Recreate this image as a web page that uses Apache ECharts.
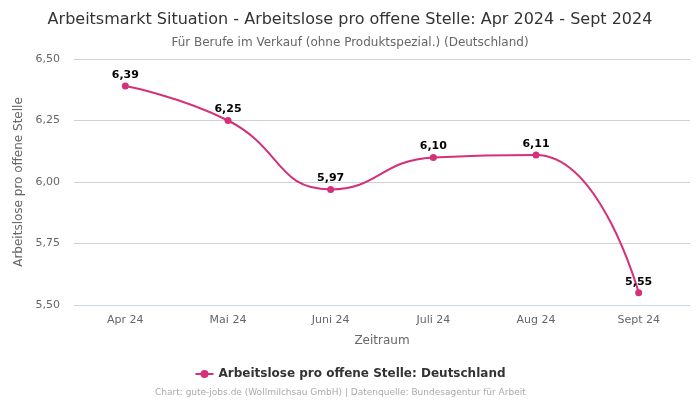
<!DOCTYPE html>
<html><head><meta charset="utf-8">
<script src="https://cdn.jsdelivr.net/npm/echarts@6/dist/echarts.min.js"></script>
<style>html,body{margin:0;padding:0;background:#fff}#c{width:700px;height:400px}</style>
</head><body><div id="c"></div>
<script>
const categories = ['Apr 24','Mai 24','Juni 24','Juli 24','Aug 24','Sept 24'];
const values = [6.39, 6.25, 5.97, 6.10, 6.11, 5.55];
const seriesName = 'Arbeitslose pro offene Stelle: Deutschland';
const fmt = v => v.toFixed(2).replace('.', ',');
const chart = echarts.init(document.getElementById('c'), null, {renderer:'canvas'});
const F = 'DejaVu Sans';
chart.setOption({
  animation:false,
  textStyle:{fontFamily:F},
  title:[
    {text:'Arbeitsmarkt Situation - Arbeitslose pro offene Stelle: Apr 2024 - Sept 2024', left:'center', top:7, textStyle:{fontFamily:F,fontSize:16,fontWeight:'normal',color:'#333'}},
    {text:'Für Berufe im Verkauf (ohne Produktspezial.) (Deutschland)', left:'center', top:32, textStyle:{fontFamily:F,fontSize:12,fontWeight:'normal',color:'#666'}},
    {text:'Chart: gute-jobs.de (Wollmilchsau GmbH) | Datenquelle: Bundesagentur für Arbeit', left:150, top:383, textStyle:{fontFamily:F,fontSize:9,fontWeight:'normal',color:'#aaa'}}
  ],
  legend:{bottom:15, left:'center', itemWidth:18, itemHeight:10, textStyle:{fontFamily:F,fontSize:12,fontWeight:'bold',color:'#333'}, data:[seriesName]},
  grid:{left:74, right:10, top:59, bottom:95},
  xAxis:{type:'category', data:categories, boundaryGap:true,
    name:'Zeitraum', nameLocation:'middle', nameGap:30, nameTextStyle:{fontFamily:F,fontSize:12,color:'#666'},
    axisLine:{lineStyle:{color:'#ccd6eb'}}, axisTick:{show:false},
    axisLabel:{fontFamily:F,fontSize:11,color:'#666',margin:10}},
  yAxis:{type:'value', min:5.5, max:6.5, interval:0.25,
    name:'Arbeitslose pro offene Stelle', nameLocation:'middle', nameGap:42, nameTextStyle:{fontFamily:F,fontSize:12,color:'#666'},
    axisLine:{show:false}, axisTick:{show:false},
    splitLine:{lineStyle:{color:'#d0d0d0'}},
    axisLabel:{fontFamily:F,fontSize:11,color:'#666',formatter:v=>fmt(v), margin:14}},
  series:[{name:seriesName, type:'line', data:values, smooth:0.5,
    symbol:'circle', symbolSize:7,
    itemStyle:{color:'#d4317a'}, lineStyle:{color:'#d4317a',width:2},
    label:{show:true, position:'top', distance:2, formatter:p=>fmt(p.value), fontFamily:F, fontSize:11, fontWeight:'bold', color:'#000'}}]
});
</script></body></html>
